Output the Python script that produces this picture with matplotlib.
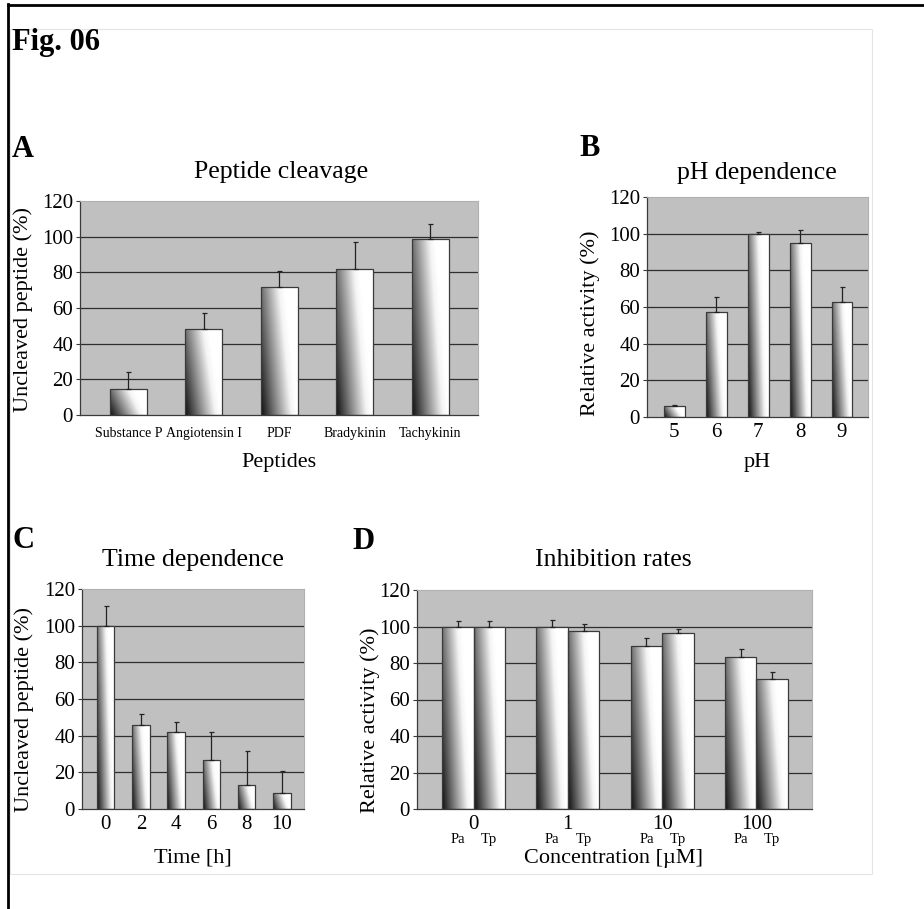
import numpy as np
import matplotlib
matplotlib.use("Agg")
import matplotlib.pyplot as plt
from matplotlib.colors import LinearSegmentedColormap
from matplotlib.patches import Rectangle
from matplotlib.lines import Line2D

W, H = 924, 909

# --- data ---
peptides = ['Substance P', 'Angiotensin I', 'PDF', 'Bradykinin', 'Tachykinin']
cleavage = [14.5, 48, 72, 82, 98.5]
cleavage_err = [9.5, 9, 9, 15, 8.5]

ph_labels = ['5', '6', '7', '8', '9']
ph_activity = [6, 57.5, 100, 95, 63]
ph_err = [0.7, 8, 1, 7, 8]

time_labels = ['0', '2', '4', '6', '8', '10']
time_uncleaved = [100, 46, 42, 27, 13.3, 9]
time_err = [10.5, 6, 5.3, 15, 18.5, 12]

conc_labels = ['0', '1', '10', '100']
pa_activity = [100, 100, 89.5, 83.5]
pa_err = [3, 3.5, 4.2, 4.2]
tp_activity = [100, 97.7, 96.3, 71]
tp_err = [3, 3.7, 2.2, 4]

yticks = [0, 20, 40, 60, 80, 100, 120]

plt.rcParams['font.family'] = ['Liberation Serif', 'DejaVu Serif']
cmap = LinearSegmentedColormap.from_list(
    'bar', [(0, '#101010'), (0.45, '#8a8a8a'), (0.85, '#f4f4f4'), (1, '#ffffff')])


def fx(x):
    return x / W


def fy(y):
    return 1 - y / H


def make_ax(fig, x0, y0, x1, y1):
    # pixel box -> axes
    return fig.add_axes([fx(x0), fy(y1), (x1 - x0) / W, (y1 - y0) / H])


def gradient_bars(ax, x, heights, width):
    bars = ax.bar(x, heights, width, color='none', edgecolor='#3a3a3a',
                  linewidth=0.9, zorder=3)
    u = np.linspace(0, 1, 80)[None, :]
    v = np.linspace(0, 1, 80)[:, None]
    grad = np.clip(u * 1.05 + v * 0.35, 0, 1)
    for b in bars:
        x0, y0 = b.get_x(), b.get_y()
        im = ax.imshow(grad, cmap=cmap, vmin=0, vmax=1, origin='lower',
                       extent=[x0, x0 + b.get_width(), y0, y0 + b.get_height()],
                       aspect='auto', interpolation='bilinear', zorder=2.5)
        im.set_clip_path(b)
    return bars


def style_ax(ax):
    ax.set_facecolor('#c0c0c0')
    ax.set_ylim(0, 120)
    ax.set_yticks(yticks)
    ax.yaxis.grid(True, color='#2e2e2e', linewidth=0.9)
    gl = ax.get_ygridlines()
    gl[0].set_visible(False)
    gl[-1].set_visible(False)
    ax.set_axisbelow(True)
    for s in ['top', 'right']:
        ax.spines[s].set_color('#b0b0b0')
        ax.spines[s].set_linewidth(0.8)
    for s in ['left', 'bottom']:
        ax.spines[s].set_color('#3a3a3a')
        ax.spines[s].set_linewidth(0.9)
    ax.tick_params(axis='y', direction='out', length=3, width=0.8,
                   color='#3a3a3a', labelsize=15, pad=2)
    ax.tick_params(axis='x', length=0, labelsize=15)


def errs(ax, x, vals, err):
    ax.errorbar(x, vals, yerr=[np.zeros(len(err)), err], fmt='none',
                ecolor='#222222', elinewidth=0.9, capsize=1.8, capthick=0.9,
                zorder=4)


fig = plt.figure(figsize=(W / 100, H / 100), dpi=100)

# page frame
fig.add_artist(Line2D([fx(8), fx(8)], [fy(4), 0], transform=fig.transFigure,
                      color='black', linewidth=2))
fig.add_artist(Line2D([fx(8), 1], [fy(5), fy(5)], transform=fig.transFigure,
                      color='black', linewidth=2))
fig.add_artist(Rectangle((fx(10), fy(874)), (872 - 10) / W, (874 - 29) / H,
                         transform=fig.transFigure, fill=False,
                         edgecolor='#e4e4e4', linewidth=0.8))

fig.text(fx(12), fy(50), 'Fig. 06', fontsize=22, fontweight='bold', va='baseline')

# --- A: peptide cleavage ---
axA = make_ax(fig, 80, 201, 478, 415)
xa = np.arange(len(peptides))
style_ax(axA)
gradient_bars(axA, xa, cleavage, 0.49)
errs(axA, xa, cleavage, cleavage_err)
axA.set_xlim(-0.64, 4.63)
axA.set_xticks(xa)
axA.set_xticklabels(peptides, fontsize=10)
axA.tick_params(axis='x', pad=9)

# --- B: pH dependence ---
axB = make_ax(fig, 647, 197, 868, 417)
xb = np.arange(len(ph_labels))
style_ax(axB)
gradient_bars(axB, xb, ph_activity, 0.5)
errs(axB, xb, ph_activity, ph_err)
axB.set_xlim(-0.65, 4.62)
axB.set_xticks(xb)
axB.set_xticklabels(ph_labels)
axB.tick_params(axis='x', pad=4)

# --- C: time dependence ---
axC = make_ax(fig, 82, 589, 304, 809)
xc = np.arange(len(time_labels))
style_ax(axC)
gradient_bars(axC, xc, time_uncleaved, 0.5)
errs(axC, xc, time_uncleaved, time_err)
axC.set_xlim(-0.67, 5.63)
axC.set_xticks(xc)
axC.set_xticklabels(time_labels)
axC.tick_params(axis='x', pad=4)

# --- D: inhibition rates ---
axD = make_ax(fig, 417, 590, 812, 809)
xd = np.arange(len(conc_labels))
bw = 1 / 3
style_ax(axD)
gradient_bars(axD, xd - bw / 2, pa_activity, bw)
gradient_bars(axD, xd + bw / 2, tp_activity, bw)
errs(axD, xd - bw / 2, pa_activity, pa_err)
errs(axD, xd + bw / 2, tp_activity, tp_err)
axD.set_xlim(-0.6, 3.59)
axD.set_xticks(xd)
axD.set_xticklabels(conc_labels)
axD.tick_params(axis='x', pad=4)
axD.set_xticks(np.concatenate([xd - bw / 2, xd + bw / 2]), minor=True)
axD.set_xticklabels(['Pa'] * 4 + ['Tp'] * 4, minor=True)
axD.tick_params(axis='x', which='minor', length=0, labelsize=10.5, pad=17)

# panel letters, titles, axis labels
for txt, x, y in [('A', 12, 157), ('B', 579, 156), ('C', 13, 548), ('D', 352, 549)]:
    fig.text(fx(x), fy(y), txt, fontsize=22, fontweight='bold', va='baseline')

for txt, x, y in [('Peptide cleavage', 281, 172), ('pH dependence', 757, 173),
                  ('Time dependence', 193, 560), ('Inhibition rates', 613, 560)]:
    fig.text(fx(x), fy(y), txt, fontsize=18.5, ha='center', va='center')

for txt, x, y in [('Peptides', 279, 462), ('pH', 757, 462),
                  ('Time [h]', 193, 858), ('Concentration [µM]', 614, 858)]:
    fig.text(fx(x), fy(y), txt, fontsize=16, ha='center', va='center')

for txt, x, y in [('Uncleaved peptide (%)', 23, 310), ('Relative activity (%)', 590, 323),
                  ('Uncleaved peptide (%)', 24, 710), ('Relative activity (%)', 370, 720)]:
    fig.text(fx(x), fy(y), txt, fontsize=16, ha='center', va='center', rotation=90)

fig.savefig('out.png', dpi=100, facecolor='white')
